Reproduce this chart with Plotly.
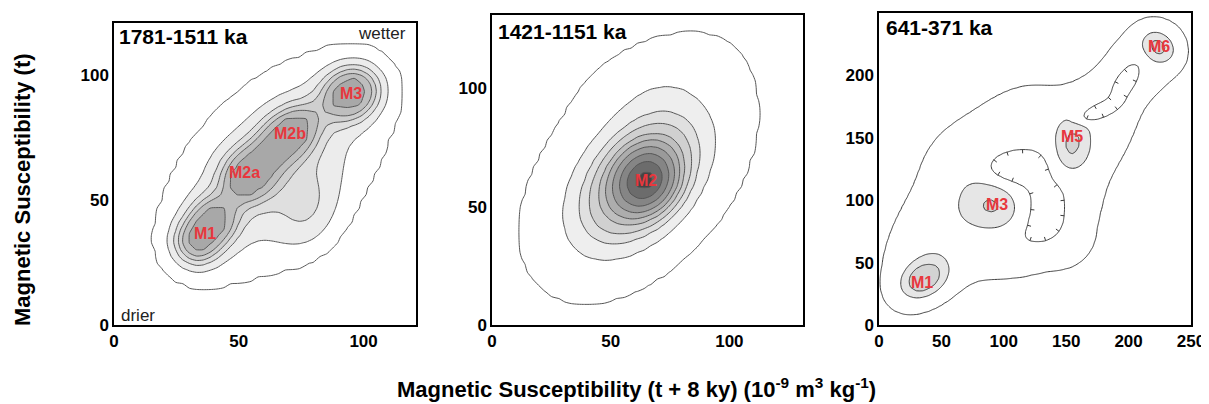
import numpy as np
import plotly.graph_objects as go

# page body has an 8 px default margin: figure is drawn 8 px in from the top-left corner
OFF = 8
W, H = 1209 - OFF, 404 - OFF
FONT = "Liberation Sans, Arial, sans-serif"

# ---------------- Panel 1 : 1781-1511 ka ----------------
# density modes: centre, spread (major/minor), orientation, weight
p1_title = "1781-1511 ka"
p1_cx   = [65, 33, 40, 54, 70, 63, 95, 78]
p1_cy   = [63, 33, 42, 60, 76, 69, 93, 45]
p1_smaj = [45, 6.5, 6.5, 8, 9, 13, 8, 12]
p1_smin = [26, 6.5, 6.5, 7, 6.5, 4.5, 7, 9]
p1_ang  = [45, 50, 50, 45, 40, 45, 30, 80]
p1_amp  = [1.0, 1.3, 1.3, 1.4, 1.4, 0.5, 1.8, 0.4]
p1_levels = [0.45, 0.75, 1.05, 1.3, 1.55, 1.85]
p1_fills = ["#ffffff", "#ffffff", "#ececec", "#dfdfdf", "#cfcfcf", "#bebebe", "#a8a8a8"]
p1_labels = ["M1", "M2a", "M2b", "M3"]
p1_lx = [36.3, 52.4, 70.6, 94.8]
p1_ly = [36.8, 61.0, 76.6, 92.6]

# ---------------- Panel 2 : 1421-1151 ka ----------------
p2_title = "1421-1151 ka"
p2_cx   = [65, 62, 62, 66]
p2_cy   = [61, 60, 67, 105]
p2_smaj = [9, 24, 37, 20]
p2_smin = [8, 15, 22, 10]
p2_ang  = [60, 50, 50, 20]
p2_amp  = [1.0, 0.8, 0.4, 0.1]
# x positions (at y = 61) where each contour crosses
p2_level_x = [16, 32.8, 39, 42.4, 46, 48.3, 51, 53.8, 57, 60.5]
p2_level_y = 61
p2_fills = ["#ffffff", "#ffffff", "#eeeeee", "#e0e0e0", "#d0d0d0", "#bfbfbf",
            "#adadad", "#9a9a9a", "#858585", "#6c6c6c", "#454545"]
p2_labels = ["M2"]
p2_lx = [65.0]
p2_ly = [61.2]

# ---------------- Panel 3 : 641-371 ka ----------------
p3_title = "641-371 ka"
# broad band of the distribution
p3_band_cx   = [37, 75, 100, 140, 128, 162, 183, 212, 170, 150, 65]
p3_band_cy   = [55, 95, 160, 165, 55, 90, 145, 212, 178, 140, 135]
p3_band_smaj = [36, 42, 30, 25, 25, 28, 25, 30, 20, 20, 18]
p3_band_smin = [22, 34, 16, 14, 10, 12, 12, 22, 14, 14, 14]
p3_band_ang  = [60, 60, 40, 15, 15, 75, 60, 45, 45, 60, 45]
p3_band_amp  = [1, 1, 1, 1, 1, 1, 1, 1, 0.6, 0.8, 0.8]
# depressions (hachured closed contours)
p3_hole_cx   = [107, 130, 173, 197]
p3_hole_cy   = [127, 88, 170, 194]
p3_hole_smaj = [16, 20, 13, 13]
p3_hole_smin = [9, 14, 4.5, 5]
p3_hole_ang  = [0, 90, 22, 55]
p3_hole_amp  = [-1.6, -0.6, -2.0, -1.4]
# modes M1, M3, M5, M6
p3_isle_cx   = [36, 92, 155, 224]
p3_isle_cy   = [37, 95, 144, 223]
p3_isle_smaj = [12.7, 17, 14.2, 10]
p3_isle_smin = [9, 13.4, 8.9, 8]
p3_isle_ang  = [30, -15, 80, -40]
p3_isle_amp  = [4.0, 2.45, 2.4, 3.0]
p3_levels = [0.5, 2.0, 3.3]
p3_fills = ["#ffffff", "#ffffff", "#e6e6e6", "#d3d3d3"]
p3_labels = ["M1", "M3", "M5", "M6"]
p3_lx = [34.2, 94.3, 154.4, 224.6]
p3_ly = [33.9, 96.2, 150.9, 223.0]

x_title = "Magnetic Susceptibility (t + 8 ky) (10<sup>-9</sup> m<sup>3</sup> kg<sup>-1</sup>)"
y_title = "Magnetic Susceptibility (t)"


def mixture(X, Y, cx, cy, smaj, smin, ang, amp):
    Z = np.zeros_like(X, dtype=float)
    for a, b, s1, s2, t, A in zip(cx, cy, smaj, smin, ang, amp):
        r = np.radians(t)
        dx, dy = X - a, Y - b
        u = dx * np.cos(r) + dy * np.sin(r)
        v = -dx * np.sin(r) + dy * np.cos(r)
        Z += A * np.exp(-0.5 * ((u / s1) ** 2 + (v / s2) ** 2))
    return Z


def remap(Z, levels):
    n = len(levels)
    xp = [min(Z.min(), levels[0]) - 1.0] + list(levels) + [max(Z.max(), levels[-1]) + 1.0]
    fp = [0.0] + list(range(1, n + 1)) + [n + 1.0]
    return np.interp(Z, xp, fp)


def contour_trace(xs, ys, Z, levels, fills, xa, ya, lw=1.0, lc="#555555", smooth=0.7):
    n = len(levels)
    cs = [[j / n, c] for j, c in enumerate(fills)]
    return go.Contour(
        x=xs, y=ys, z=remap(Z, levels), xaxis=xa, yaxis=ya,
        autocontour=False,
        contours=dict(start=1, end=n, size=1, coloring="fill"),
        colorscale=cs, showscale=False, hoverinfo="skip",
        line=dict(color=lc, width=lw, smoothing=smooth),
    )


def hole_ticks(xs, ys, Z, level, spacing, length):
    """Hachure ticks on closed depressions of the lowest contour, pointing downhill."""
    low = Z < level
    outside = np.zeros_like(low)
    outside[0, :], outside[-1, :] = low[0, :], low[-1, :]
    outside[:, 0], outside[:, -1] = low[:, 0], low[:, -1]
    while True:
        g = outside.copy()
        g[1:, :] |= outside[:-1, :]
        g[:-1, :] |= outside[1:, :]
        g[:, 1:] |= outside[:, :-1]
        g[:, :-1] |= outside[:, 1:]
        g &= low
        if (g == outside).all():
            break
        outside = g
    hole = low & ~outside
    gy, gx = np.gradient(Z, ys, xs)
    ny, nx = Z.shape
    pts = []
    for i in range(ny):
        for j in range(nx):
            if not hole[i, j]:
                continue
            for di, dj in ((0, 1), (0, -1), (1, 0), (-1, 0)):
                ii, jj = i + di, j + dj
                if 0 <= ii < ny and 0 <= jj < nx and Z[ii, jj] >= level:
                    t = (level - Z[i, j]) / (Z[ii, jj] - Z[i, j])
                    x = xs[j] + t * (xs[jj] - xs[j])
                    y = ys[i] + t * (ys[ii] - ys[i])
                    pts.append((x, y, gx[i, j] + gx[ii, jj], gy[i, j] + gy[ii, jj]))
    chosen = []
    for p in pts:
        if all((p[0] - q[0]) ** 2 + (p[1] - q[1]) ** 2 >= spacing ** 2 for q in chosen):
            chosen.append(p)
    tx, ty = [], []
    for x, y, ux, uy in chosen:
        n = np.hypot(ux, uy)
        if n == 0:
            continue
        tx += [x, x - ux / n * length, None]
        ty += [y, y - uy / n * length, None]
    return tx, ty


fig = go.Figure()

xs1 = np.linspace(0, 121, 45)
X1, Y1 = np.meshgrid(xs1, xs1)
Z1 = mixture(X1, Y1, p1_cx, p1_cy, p1_smaj, p1_smin, p1_ang, p1_amp)
fig.add_trace(contour_trace(xs1, xs1, Z1, p1_levels, p1_fills, "x", "y", lc="#5a5a5a"))

xs2 = np.linspace(0, 131, 48)
X2, Y2 = np.meshgrid(xs2, xs2)
Z2 = mixture(X2, Y2, p2_cx, p2_cy, p2_smaj, p2_smin, p2_ang, p2_amp)
p2_levels = [float(mixture(np.array([lx]), np.array([p2_level_y]), p2_cx, p2_cy,
                           p2_smaj, p2_smin, p2_ang, p2_amp)[0]) for lx in p2_level_x]
fig.add_trace(contour_trace(xs2, xs2, Z2, p2_levels, p2_fills, "x2", "y2", lc="#555555"))

xs3 = np.linspace(0, 250, 101)
X3, Y3 = np.meshgrid(xs3, xs3)
Z3 = (mixture(X3, Y3, p3_band_cx, p3_band_cy, p3_band_smaj, p3_band_smin, p3_band_ang, p3_band_amp)
      + mixture(X3, Y3, p3_hole_cx, p3_hole_cy, p3_hole_smaj, p3_hole_smin, p3_hole_ang, p3_hole_amp)
      + mixture(X3, Y3, p3_isle_cx, p3_isle_cy, p3_isle_smaj, p3_isle_smin, p3_isle_ang, p3_isle_amp))
fig.add_trace(contour_trace(xs3, xs3, Z3, p3_levels, p3_fills, "x3", "y3", lc="#3a3a3a", smooth=0.3))
htx, hty = hole_ticks(xs3, xs3, Z3, p3_levels[0], 12.0, 3.2)
fig.add_trace(go.Scatter(x=htx, y=hty, mode="lines", xaxis="x3", yaxis="y3", hoverinfo="skip",
                         line=dict(color="#3a3a3a", width=1)))


def px(v):
    return (v - OFF) / W


def py(v):
    return 1 - (v - OFF) / H


tickfont = dict(family=FONT, size=17, color="black", weight="bold")
ax_common = dict(showline=True, mirror=True, linecolor="black", linewidth=1.5, automargin=False,
                 showgrid=False, zeroline=False, ticks="", tickfont=tickfont)

fig.update_layout(
    width=W, height=H, margin=dict(l=0, r=0, t=0, b=0, pad=0, autoexpand=False),
    paper_bgcolor="white", plot_bgcolor="white", showlegend=False,
    xaxis=dict(domain=[px(114), px(416)], range=[0, 121], tickvals=[0, 50, 100], anchor="y", **ax_common),
    yaxis=dict(domain=[py(325), py(23)], range=[0, 121], tickvals=[0, 50, 100], anchor="x", **ax_common),
    xaxis2=dict(domain=[px(492), px(803)], range=[0, 131], tickvals=[0, 50, 100], anchor="y2", **ax_common),
    yaxis2=dict(domain=[py(325), py(15)], range=[0, 131], tickvals=[0, 50, 100], anchor="x2", **ax_common),
    xaxis3=dict(domain=[px(879), px(1191)], range=[0, 250], tickvals=[0, 50, 100, 150, 200, 250], anchor="y3", **ax_common),
    yaxis3=dict(domain=[py(325), py(13)], range=[0, 250], tickvals=[0, 50, 100, 150, 200, 250], anchor="x3", **ax_common),
)

ann = []
for t, x0, y0 in [(p1_title, 117, 37), (p2_title, 496, 32), (p3_title, 884, 28)]:
    ann.append(dict(text="<b>" + t + "</b>", x=px(x0), y=py(y0), xref="paper", yref="paper",
                    xanchor="left", yanchor="middle", showarrow=False,
                    font=dict(family=FONT, size=21, color="black")))
ann.append(dict(text="wetter", x=px(408), y=py(34), xref="paper", yref="paper", xanchor="right",
                yanchor="middle", showarrow=False, font=dict(family=FONT, size=17, color="#222")))
ann.append(dict(text="drier", x=px(119), y=py(315), xref="paper", yref="paper", xanchor="left",
                yanchor="middle", showarrow=False, font=dict(family=FONT, size=17, color="#222")))
for labs, lx, ly, xr, yr in [(p1_labels, p1_lx, p1_ly, "x", "y"),
                             (p2_labels, p2_lx, p2_ly, "x2", "y2"),
                             (p3_labels, p3_lx, p3_ly, "x3", "y3")]:
    for t, a, b in zip(labs, lx, ly):
        ann.append(dict(text="<b>" + t + "</b>", x=a, y=b, xref=xr, yref=yr, showarrow=False,
                        xanchor="center", yanchor="middle",
                        font=dict(family=FONT, size=16, color="#e8373d")))
ann.append(dict(text="<b>" + x_title + "</b>", x=px(636), y=py(388), xref="paper", yref="paper",
                showarrow=False, xanchor="center", yanchor="middle",
                font=dict(family=FONT, size=22, color="black")))
ann.append(dict(text="<b>" + y_title + "</b>", x=px(23), y=py(190), xref="paper", yref="paper",
                showarrow=False, xanchor="center", yanchor="middle", textangle=-90,
                font=dict(family=FONT, size=22, color="black")))
fig.update_layout(annotations=ann)

fig.write_html("out.html")
